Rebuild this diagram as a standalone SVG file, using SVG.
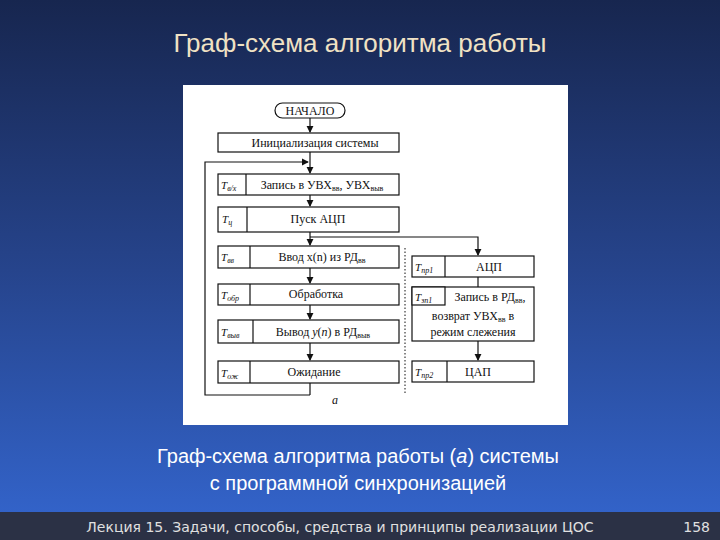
<svg xmlns="http://www.w3.org/2000/svg" width="720" height="540" viewBox="0 0 720 540">
<defs>
<linearGradient id="bg" x1="0" y1="0" x2="0" y2="1">
<stop offset="0" stop-color="#17264f"/>
<stop offset="0.5" stop-color="#26448c"/>
<stop offset="1" stop-color="#3466cf"/>
</linearGradient>
<marker id="ar" viewBox="0 0 8 8" refX="7" refY="4" markerWidth="6" markerHeight="6" orient="auto"><path d="M0,0 L8,4 L0,8 z" fill="#111"/></marker>
<style>
.b{fill:#fff;stroke:#111;stroke-width:1.2}
.l{stroke:#111;stroke-width:1.2;fill:none}
.t{font-family:"Liberation Serif",serif;font-size:12px;fill:#111;text-anchor:middle}
.s{font-family:"Liberation Serif",serif;font-size:11px;font-style:italic;fill:#111}
</style>
</defs>
<rect width="720" height="540" fill="url(#bg)"/>
<rect x="0" y="512" width="720" height="28" fill="#2b3145"/>
<text x="360" y="52" font-family="Liberation Sans,sans-serif" font-size="26" fill="#f0e2c4" text-anchor="middle">Граф-схема алгоритма работы</text>
<rect x="183" y="85" width="385" height="340" fill="#fff"/>
<g id="connectors">
<line class="l" x1="310" y1="118" x2="310" y2="132" marker-end="url(#ar)"/>
<line class="l" x1="310" y1="152" x2="310" y2="173" marker-end="url(#ar)"/>
<polyline class="l" points="310,395 205,395 205,162 308,162" marker-end="url(#ar)"/>
<line class="l" x1="310" y1="195" x2="310" y2="206" marker-end="url(#ar)"/>
<line class="l" x1="310" y1="232" x2="310" y2="245" marker-end="url(#ar)"/>
<polyline class="l" points="310,237 478,237 478,255" marker-end="url(#ar)"/>
<line class="l" x1="310" y1="268" x2="310" y2="283" marker-end="url(#ar)"/>
<line class="l" x1="310" y1="305" x2="310" y2="319" marker-end="url(#ar)"/>
<line class="l" x1="310" y1="343" x2="310" y2="360" marker-end="url(#ar)"/>
<line class="l" x1="310" y1="383" x2="310" y2="395"/>
<line class="l" x1="478" y1="277" x2="478" y2="287"/>
<line class="l" x1="478" y1="341" x2="478" y2="360" marker-end="url(#ar)"/>
<line x1="405" y1="248" x2="405" y2="395" stroke="#111" stroke-width="1" stroke-dasharray="1.5,2"/>
</g>
<g id="start"><rect class="b" x="275" y="103" width="70" height="15" rx="7.5"/><text class="t" x="310" y="115" font-size="11">НАЧАЛО</text></g>
<g id="init"><rect class="b" x="218" y="133" width="181" height="19"/><text class="t" x="315" y="147">Инициализация системы</text></g>
<g id="zapis"><rect class="b" x="218" y="174" width="181" height="21"/><line class="l" x1="246" y1="174" x2="246" y2="195"/><text class="s" x="221" y="189">T<tspan font-size="8" dy="2">в/х</tspan></text><text class="t" x="322" y="189">Запись в УВХ<tspan font-size="8" dy="2">вв</tspan><tspan dy="-2">, УВХ</tspan><tspan font-size="8" dy="2">выв</tspan></text></g>
<g id="pusk"><rect class="b" x="218" y="207" width="181" height="25"/><line class="l" x1="247" y1="207" x2="247" y2="232"/><text class="s" x="222" y="223">T<tspan font-size="8" dy="2">ц</tspan></text><text class="t" x="318" y="223">Пуск АЦП</text></g>
<g id="vvod"><rect class="b" x="218" y="246" width="181" height="22"/><line class="l" x1="250" y1="246" x2="250" y2="268"/><text class="s" x="221" y="261">T<tspan font-size="8" dy="2">вв</tspan></text><text class="t" x="322" y="261">Ввод x(n) из РД<tspan font-size="8" dy="2">вв</tspan></text></g>
<g id="obr"><rect class="b" x="218" y="284" width="181" height="21"/><line class="l" x1="250" y1="284" x2="250" y2="305"/><text class="s" x="221" y="299">T<tspan font-size="8" dy="2">обр</tspan></text><text class="t" x="316" y="298">Обработка</text></g>
<g id="vyvod"><rect class="b" x="218" y="320" width="181" height="23"/><line class="l" x1="253" y1="320" x2="253" y2="343"/><text class="s" x="221" y="336">T<tspan font-size="8" dy="2">выв</tspan></text><text class="t" x="323" y="336">Вывод <tspan font-style="italic">y</tspan>(<tspan font-style="italic">n</tspan>) в РД<tspan font-size="8" dy="2">выв</tspan></text></g>
<g id="ozh"><rect class="b" x="218" y="361" width="181" height="22"/><line class="l" x1="250" y1="361" x2="250" y2="383"/><text class="s" x="221" y="377">T<tspan font-size="8" dy="2">ож</tspan></text><text class="t" x="314" y="376">Ожидание</text></g>
<g id="acp"><rect class="b" x="412" y="256" width="122" height="21"/><line class="l" x1="445" y1="256" x2="445" y2="277"/><text class="s" x="415" y="271">T<tspan font-size="8" dy="2">пр1</tspan></text><text class="t" x="489" y="271">АЦП</text></g>
<g id="zapis2"><rect class="b" x="412" y="287" width="122" height="54"/><rect class="b" x="412" y="287" width="33" height="18"/><text class="s" x="415" y="301">T<tspan font-size="8" dy="2">зп1</tspan></text><text class="t" x="490" y="301">Запись в РД<tspan font-size="8" dy="2">вв</tspan><tspan dy="-2">,</tspan></text><text class="t" x="473" y="320">возврат УВХ<tspan font-size="8" dy="2">вв</tspan><tspan dy="-2"> в</tspan></text><text class="t" x="473" y="336">режим слежения</text></g>
<g id="cap"><rect class="b" x="412" y="361" width="122" height="21"/><line class="l" x1="447" y1="361" x2="447" y2="382"/><text class="s" x="415" y="376">T<tspan font-size="8" dy="2">пр2</tspan></text><text class="t" x="478" y="376">ЦАП</text></g>
<text x="335" y="404" font-family="Liberation Serif,serif" font-size="12" font-style="italic" fill="#111" text-anchor="middle">а</text>
<text x="358" y="463" font-family="Liberation Sans,sans-serif" font-size="20" fill="#fff" text-anchor="middle">Граф-схема алгоритма работы (<tspan font-style="italic">а</tspan>) системы</text>
<text x="358" y="490" font-family="Liberation Sans,sans-serif" font-size="20" fill="#fff" text-anchor="middle">с программной синхронизацией</text>
<text x="340" y="532" font-family="DejaVu Sans,sans-serif" font-size="14" fill="#e0e0e0" text-anchor="middle">Лекция 15. Задачи, способы, средства и принципы реализации ЦОС</text>
<text x="710" y="532" font-family="DejaVu Sans,sans-serif" font-size="14" fill="#e0e0e0" text-anchor="end">158</text>
</svg>
